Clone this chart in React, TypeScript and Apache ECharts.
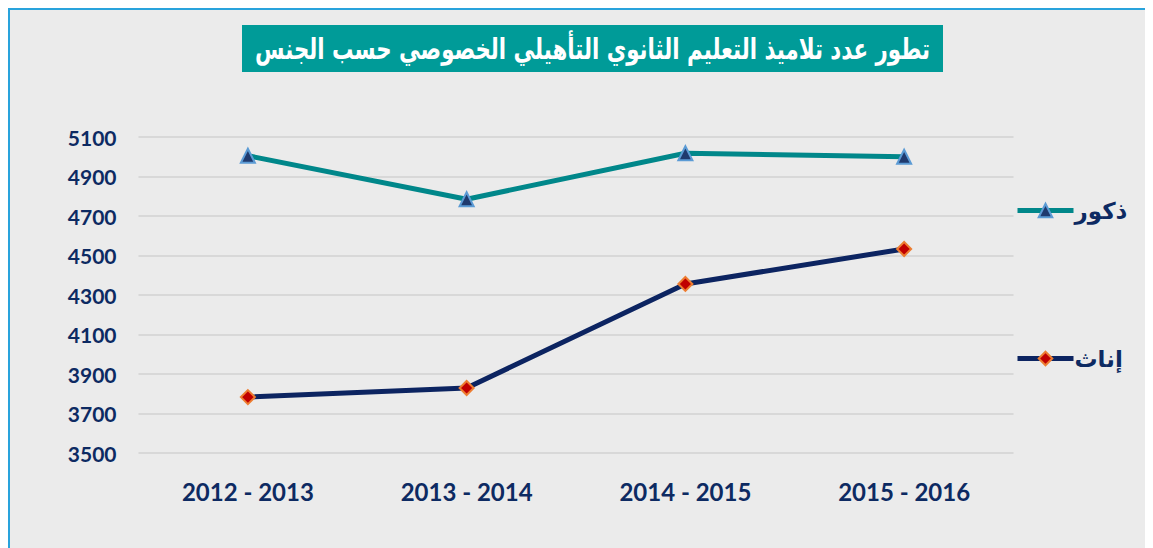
import React, { useEffect, useRef } from "react";
import * as echarts from "echarts";

const title = "تطور عدد تلاميذ التعليم الثانوي التأهيلي الخصوصي حسب الجنس";
const categories = ["2012 - 2013", "2013 - 2014", "2014 - 2015", "2015 - 2016"];
const maleName = "ذكور";
const femaleName = "إناث";
const maleValues = [5005, 4785, 5018, 5000];
const femaleValues = [3783, 3829, 4356, 4533];
const yMin = 3500;
const yMax = 5100;
const yInterval = 200;

const NAVY = "#0d2a62";

export default function App() {
  const ref = useRef<HTMLDivElement>(null);
  useEffect(() => {
    if (!ref.current) return;
    const chart = echarts.init(ref.current, undefined, { renderer: "svg" });
    chart.setOption({
      animation: false,
      backgroundColor: "#ebebeb",
      grid: { left: 128.5, right: 139.5, top: 127, bottom: 95 },
      xAxis: {
        type: "category",
        data: categories,
        boundaryGap: true,
        axisLine: { show: false },
        axisTick: { show: false },
        axisLabel: {
          margin: 26,
          fontSize: 24,
          fontWeight: "bold",
          fontFamily: "Lato",
          color: NAVY,
        },
      },
      yAxis: {
        type: "value",
        min: yMin,
        max: yMax,
        interval: yInterval,
        axisLine: { show: false },
        axisTick: { show: false },
        splitLine: { lineStyle: { color: "#d2d2d2", width: 1.5 } },
        axisLabel: {
          margin: 22,
          fontSize: 21,
          fontWeight: "bold",
          fontFamily: "Lato",
          color: NAVY,
          formatter: (v: number) => String(v),
        },
      },
      legend: {
        orient: "vertical",
        left: 1000,
        top: 184,
        itemGap: 125,
        itemWidth: 56,
        itemHeight: 17,
        data: [maleName, femaleName],
        lineStyle: { width: 5 },
        textStyle: {
          fontSize: 23,
          fontWeight: "bold",
          fontFamily: "DejaVu Sans",
          color: NAVY,
          padding: [0, 0, 0, -4],
        },
      },
      graphic: [
        {
          type: "rect",
          left: 232,
          top: 15,
          shape: { width: 701, height: 47 },
          style: { fill: "#009b98" },
          z: 10,
        },
        {
          type: "text",
          x: 582.5,
          y: 39,
          scaleX: 0.735,
          style: {
            text: title,
            fill: "#ffffff",
            fontSize: 29,
            fontWeight: "bold",
            fontFamily: "DejaVu Sans",
            align: "center",
            verticalAlign: "middle",
          },
          z: 11,
        },
      ],
      series: [
        {
          name: maleName,
          type: "line",
          data: maleValues,
          symbol: "triangle",
          symbolSize: 14,
          lineStyle: { color: "#00878a", width: 5 },
          itemStyle: { color: "#1f3a6e", borderColor: "#5b9bd5", borderWidth: 2 },
          z: 3,
        },
        {
          name: femaleName,
          type: "line",
          data: femaleValues,
          symbol: "diamond",
          symbolSize: 14,
          lineStyle: { color: "#0c2461", width: 5 },
          itemStyle: { color: "#c00000", borderColor: "#ed7d31", borderWidth: 2 },
          z: 3,
        },
      ],
    });
    return () => chart.dispose();
  }, []);
  return (
    <div
      style={{
        width: 1145,
        height: 540,
        borderLeft: "2px solid #29a3dc",
        borderTop: "2px solid #29a3dc",
        boxSizing: "border-box",
      }}
    >
      <div ref={ref} style={{ width: 1143, height: 538 }} />
    </div>
  );
}
